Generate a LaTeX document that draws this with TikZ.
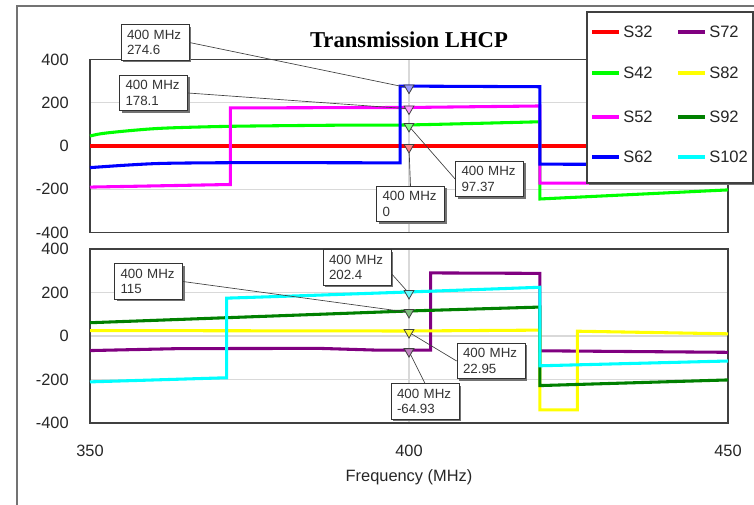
\documentclass[tikz,border=0pt]{standalone}
\usepackage{fontspec}
\setmainfont{Liberation Sans}
\newfontfamily\titlefont{Liberation Serif}
\usepackage{tikz}
\usetikzlibrary{shapes}
\usetikzlibrary{shapes.geometric}
\usetikzlibrary{positioning}
\usetikzlibrary{shadows}

\definecolor{sred}{RGB}{255,0,0}
\definecolor{slime}{RGB}{0,255,0}
\definecolor{spink}{RGB}{255,0,255}
\definecolor{sblue}{RGB}{0,0,255}
\definecolor{sviolet}{RGB}{128,0,128}
\definecolor{syellow}{RGB}{255,255,0}
\definecolor{sdkgreen}{RGB}{0,128,0}
\definecolor{saqua}{RGB}{0,255,255}
\definecolor{sframe}{RGB}{64,64,64}

\begin{document}
\begin{tikzpicture}[x=0.75pt,y=-0.75pt]
\tikzstyle{trace}=[line width=2.3pt]
\tikzstyle{gridline}=[draw=black!15,line width=0.8pt]
\tikzstyle{plotframe}=[draw=sframe,line width=0.8pt]
\tikzstyle{probe}=[regular polygon,regular polygon sides=3,shape border rotate=180,
draw=black!75,line width=0.6pt,inner sep=0pt,minimum size=8.5pt,yshift=-1pt]
\tikzstyle{readout}=[rectangle,draw=black!80,fill=white,line width=0.6pt,
drop shadow={shadow xshift=1.5pt,shadow yshift=-1.5pt,fill=black!55,opacity=1},
align=left,text width=42pt,inner xsep=4.5pt,inner ysep=4pt,
font=\fontsize{10}{11.5}\selectfont,text=black!80]
\tikzstyle{callout}=[draw=black!75,line width=0.5pt]
\tikzstyle{ticklabel}=[font=\fontsize{12.3}{14}\selectfont,text=black!85,inner sep=0pt]
\tikzstyle{legendbox}=[rectangle,draw=sframe,fill=white,line width=0.8pt,
minimum width=124.5pt,minimum height=128.25pt,
drop shadow={shadow xshift=1.5pt,shadow yshift=-1.5pt,fill=black!55,opacity=1}]
\tikzstyle{legendtext}=[font=\fontsize{12.4}{14}\selectfont,text=black!85,anchor=west,inner sep=0pt]
\tikzstyle{legendline}=[line width=2.3pt]
\useasboundingbox (0,0) rectangle (754,505);
\draw[black!55,line width=1.2pt] (17,505) -- (17,6) -- (754,6);
\node[font={\titlefont\bfseries\fontsize{17}{19}\selectfont}] (title) at (409,40) {Transmission LHCP};

% upper plot: S32 .. S62
\begin{scope}[shift={(-2143,146)},xscale=6.38,yscale=-0.2163]
\draw[gridline] (350,200) -- (450,200) (350,-200) -- (450,-200) (400,-400) -- (400,400);
\draw[plotframe] (350,-400) rectangle (450,400);
\node[ticklabel,anchor=east] (ya400) at (346.7,400) {400};
\node[ticklabel,anchor=east] (ya200) at (346.7,200) {200};
\node[ticklabel,anchor=east] (ya0) at (346.7,0) {0};
\node[ticklabel,anchor=east] (yam200) at (346.7,-200) {-200};
\node[ticklabel,anchor=east] (yam400) at (346.7,-400) {-400};
\draw[trace,sred] (350,0) -- (450,0);
\draw[trace,slime] plot[smooth] coordinates {(350,46) (352,58) (357,73) (362,83) (372,91) (388,96) (400,97.4) (420.5,112)}
  -- (420.5,-245) -- (450,-203);
\draw[trace,spink] (350,-190) -- (372,-178) -- (372,176) -- (400,178.1) -- (420.5,185)
  -- (420.5,-172) -- (450,-170);
\draw[trace,sblue] plot[smooth] coordinates {(350,-100) (356,-88) (362,-80) (375,-77) (398.6,-78)}
  -- (398.6,277) -- (420.5,274) -- (420.5,-84) -- (450,-86);
\node[probe,fill=sblue!40] (m274) at (400,274.6) {};
\node[probe,fill=spink!40] (m178) at (400,178.1) {};
\node[probe,fill=slime!50] (m97) at (400,97.37) {};
\node[probe,fill=sred!50] (m0) at (400,0) {};
\end{scope}

% lower plot: S72 .. S102
\begin{scope}[shift={(-2143,336)},xscale=6.38,yscale=-0.2175]
\draw[gridline] (350,200) -- (450,200) (350,0) -- (450,0) (350,-200) -- (450,-200) (400,-400) -- (400,400);
\draw[plotframe] (350,-400) rectangle (450,400);
\node[ticklabel,anchor=east] (yb400) at (346.7,400) {400};
\node[ticklabel,anchor=east] (yb200) at (346.7,200) {200};
\node[ticklabel,anchor=east] (yb0) at (346.7,0) {0};
\node[ticklabel,anchor=east] (ybm200) at (346.7,-200) {-200};
\node[ticklabel,anchor=east] (ybm400) at (346.7,-400) {-400};
\node[ticklabel,yshift=-21pt] (x350) at (350,-400) {350};
\node[ticklabel,yshift=-21pt] (x400) at (400,-400) {400};
\node[ticklabel,yshift=-21pt] (x450) at (450,-400) {450};
\node[ticklabel,yshift=-41pt] (xtitle) at (400,-400) {Frequency (MHz)};
\draw[trace,sviolet] (350,-67) -- (364,-58) -- (386,-57) -- (395,-65) -- (403.4,-65) -- (403.4,290)
  -- (420.5,288) -- (420.5,-68) -- (450,-75);
\draw[trace,syellow] (350,25) -- (400,22.95) -- (420.5,27) -- (420.5,-340) -- (426.4,-340)
  -- (426.4,22) -- (450,10);
\draw[trace,sdkgreen] (350,61) -- (400,115) -- (420.5,133) -- (420.5,-228) -- (450,-202);
\draw[trace,saqua] (350,-211) -- (371.4,-192) -- (371.4,174) -- (383,185) -- (400,202.4)
  -- (420.5,224) -- (420.5,-137) -- (450,-115);
\node[probe,fill=saqua!60] (m202) at (400,202.4) {};
\node[probe,fill=sdkgreen!50] (m115) at (400,115) {};
\node[probe,fill=syellow!80] (m22) at (400,22.95) {};
\node[probe,fill=sviolet!50] (m64) at (400,-64.93) {};
\end{scope}

% marker readouts
\node[readout] (l274) at (155,42.5) {400 MHz\\274.6};
\node[readout] (l178) at (153.5,93) {400 MHz\\178.1};
\node[readout] (l97) at (489.5,179) {400 MHz\\97.37};
\node[readout] (l0) at (410.5,204) {400 MHz\\0};
\node[readout] (l115) at (148.5,281.5) {400 MHz\\115};
\node[readout] (l202) at (357,267.5) {400 MHz\\202.4};
\node[readout] (l22) at (491,361) {400 MHz\\22.95};
\node[readout] (l64) at (425,401.5) {400 MHz\\-64.93};
\draw[callout] (l274.east) -- (m274);
\draw[callout] (l178.east) -- (m178);
\draw[callout] (l97.west) -- (m97);
\draw[callout] (l0.north) -- (m0);
\draw[callout] (l115.east) -- (m115);
\draw[callout] (l202.-10) -- (m202);
\draw[callout] (l22.west) -- (m22);
\draw[callout] (l64.north) -- (m64);

% legend
\node[legendbox] (legend) at (670,97.5) {};
\node[legendtext] (s32) at (623,32) {S32};
\node[legendtext] (s42) at (623,73) {S42};
\node[legendtext] (s52) at (623,117) {S52};
\node[legendtext] (s62) at (623,157) {S62};
\node[legendtext] (s72) at (709,32) {S72};
\node[legendtext] (s82) at (709,73) {S82};
\node[legendtext] (s92) at (709,117) {S92};
\node[legendtext] (s102) at (709,157) {S102};
\draw[legendline,sred] ([xshift=-23pt]s32.west) -- ([xshift=-3pt]s32.west);
\draw[legendline,slime] ([xshift=-23pt]s42.west) -- ([xshift=-3pt]s42.west);
\draw[legendline,spink] ([xshift=-23pt]s52.west) -- ([xshift=-3pt]s52.west);
\draw[legendline,sblue] ([xshift=-23pt]s62.west) -- ([xshift=-3pt]s62.west);
\draw[legendline,sviolet] ([xshift=-23pt]s72.west) -- ([xshift=-3pt]s72.west);
\draw[legendline,syellow] ([xshift=-23pt]s82.west) -- ([xshift=-3pt]s82.west);
\draw[legendline,sdkgreen] ([xshift=-23pt]s92.west) -- ([xshift=-3pt]s92.west);
\draw[legendline,saqua] ([xshift=-23pt]s102.west) -- ([xshift=-3pt]s102.west);
\end{tikzpicture}
\end{document}
